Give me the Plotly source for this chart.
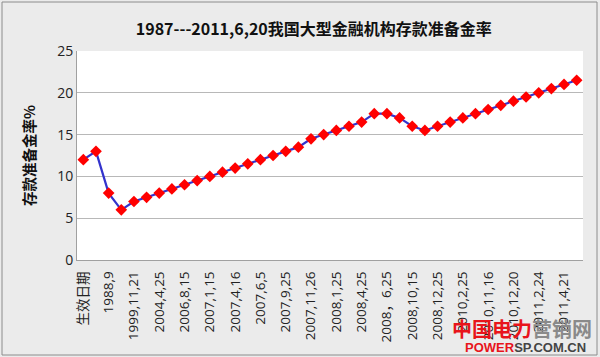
import plotly.graph_objects as go

categories = ["生效日期", "1987", "1988,9", "1998,3,21", "1999,11,21", "2003,9,21",
              "2004,4,25", "2006,7,5", "2006,8,15", "2006,11,15", "2007,1,15", "2007,2,25",
              "2007,4,16", "2007,5,15", "2007,6,5", "2007,8,15", "2007,9,25", "2007,10,25",
              "2007,11,26", "2007,12,25", "2008,1,25", "2008,3,25", "2008,4,25", "2008,5,20",
              "2008，6,25", "2008,9,25", "2008,10,15", "2008,12,5", "2008,12,25", "2010,1,18",
              "2010,2,25", "2010,5,10", "2010,11,16", "2010,11,29", "2010,12,20", "2011,1,20",
              "2011,2,24", "2011,3,25", "2011,4,21", "2011,5,18"]
rates = [12, 13, 8, 6, 7, 7.5, 8, 8.5, 9, 9.5, 10, 10.5, 11, 11.5, 12, 12.5, 13, 13.5,
         14.5, 15, 15.5, 16, 16.5, 17.5, 17.5, 17, 16, 15.5, 16, 16.5, 17, 17.5, 18, 18.5,
         19, 19.5, 20, 20.5, 21, 21.5]
y_ticks = [0, 5, 10, 15, 20, 25]

FONT = "Open Sans, Noto Sans CJK SC, sans-serif"
CJK = "Noto Sans CJK SC, sans-serif"

fig = go.Figure()
fig.add_trace(go.Scatter(
    x=categories, y=rates, mode="lines+markers",
    line=dict(color="#3333CC", width=2.2),
    marker=dict(symbol="diamond", size=9, color="#FF0000", line=dict(width=0)),
))

fig.update_layout(
    width=600, height=357,
    margin=dict(l=77, r=17, t=51, b=97, autoexpand=False),
    paper_bgcolor="#EBEBEB", plot_bgcolor="#FFFFFF",
    showlegend=False,
    font=dict(family=FONT, size=12, color="#222222"),
    title=dict(text="<b>1987---2011,6,20我国大型金融机构存款准备金率</b>",
               x=0.523, xanchor="center", y=0.917, yanchor="middle",
               font=dict(family=CJK, size=16, color="#111111")),
    xaxis=dict(type="category", tickangle=-90, tickvals=categories[::2],
               ticktext=categories[::2], showgrid=False, showline=True,
               linecolor="#A0A0A0", linewidth=1, ticks="", automargin=False,
               ticklabelstandoff=5,
               tickfont=dict(family=FONT, size=13.5, color="#222222"),
               range=[-0.5, 39.5]),
    yaxis=dict(range=[0, 25], tickvals=y_ticks, showgrid=True, gridcolor="#B8B8B8",
               gridwidth=1, showline=True, linecolor="#A0A0A0", linewidth=1,
               ticks="", ticklen=0, automargin=False,
               tickfont=dict(family=FONT, size=14, color="#222222"),
               zeroline=False,
               title=dict(text="<b>存款准备金率%</b>", standoff=18,
                          font=dict(family=CJK, size=14.5, color="#111111"))),
    shapes=[dict(type="rect", xref="paper", yref="paper", x0=-75/506, x1=1+14/506,
                 y0=-95/209, y1=1+49/209, line=dict(color="#8C8C8C", width=1))],
    annotations=[
        dict(text="<b><span style='color:#E8141B'>中国电力</span><span style='color:#8A8A8A'>营销网</span></b>",
             xref="paper", yref="paper", x=1.022, y=-0.33, xanchor="right", yanchor="middle",
             showarrow=False, font=dict(family=CJK, size=20)),
        dict(text="<b><span style='color:#E8141B'>POWER</span><span style='color:#444444'>SP.COM.CN</span></b>",
             xref="paper", yref="paper", x=1.01, y=-0.42, xanchor="right", yanchor="middle",
             showarrow=False, font=dict(family="Liberation Sans, Arial, sans-serif", size=13)),
    ],
)

fig.write_html("out.html", config={"displayModeBar": False},
               post_script="document.body.style.margin='0';document.body.style.overflow='hidden';")
